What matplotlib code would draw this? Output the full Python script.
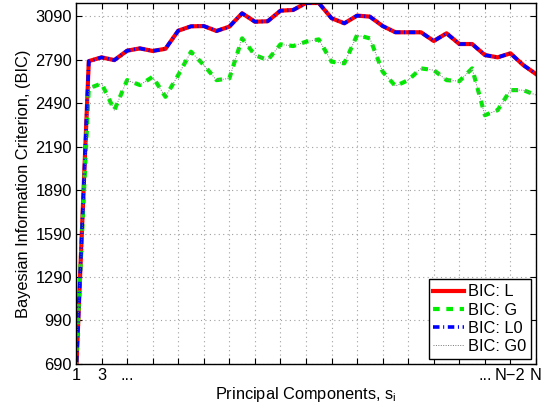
import numpy as np
import matplotlib
matplotlib.use('Agg')
import matplotlib.pyplot as plt

plt.rcParams['font.family'] = ['Liberation Sans', 'DejaVu Sans']
plt.rcParams['mathtext.fontset'] = 'custom'
plt.rcParams['mathtext.rm'] = 'Liberation Sans'

# Principal components 1..N (N = 37)
components = list(range(1, 38))

# BIC values
bic_L = [600, 2779, 2805, 2786, 2851, 2867, 2849, 2864, 2989, 3019,
         3021, 2987, 3017, 3109, 3051, 3054, 3127, 3132, 3180, 3180,
         3075, 3040, 3093, 3086, 3021, 2978, 2978, 2978, 2918, 2971,
         2897, 2897, 2821, 2805, 2833, 2752, 2690]
bic_G = [690, 2591, 2625, 2441, 2648, 2614, 2671, 2533, 2683, 2844,
         2752, 2648, 2660, 2936, 2821, 2786, 2895, 2883, 2913, 2929,
         2775, 2764, 2959, 2936, 2706, 2607, 2648, 2729, 2717, 2648,
         2641, 2729, 2406, 2441, 2579, 2579, 2545]
bic_L0 = list(bic_L)
bic_G0 = list(bic_G)

xtick_pos = list(range(1, 38, 2))
xtick_labels = ['1', '3', '...'] + [''] * 13 + ['...', 'N\u22122', 'N']
ytick_pos = list(range(690, 3091, 300))

fs = 11.8

fig = plt.figure(figsize=(5.52, 4.11), dpi=100)
ax = fig.add_axes([0.1377, 0.1144, 0.8333, 0.8783])

ax.plot(components, bic_L, color='red', lw=3.0, ls='-', label='BIC: L')
ax.plot(components, bic_G, color='#00ee00', lw=3.0, ls=(0, (1.6, 1.6)), label='BIC: G')
ax.plot(components, bic_L0, color='blue', lw=2.6, ls=(0, (1.8, 1.0, 0.3, 1.0)), label='BIC: L0')
ax.plot(components, bic_G0, color='#777777', lw=0.7, ls=(0, (1, 1.5)), label='BIC: G0')

ax.set_xlim(1, 37)
ax.set_ylim(690, 3180)
ax.set_xticks(xtick_pos)
ax.set_xticklabels(xtick_labels)
ax.set_yticks(ytick_pos)

ax.grid(True, color='#a0a0a0', ls=(0, (1, 3)), lw=0.8)
ax.tick_params(direction='in', top=True, right=True, length=4, labelsize=fs, pad=3)
for s in ax.spines.values():
    s.set_linewidth(1.0)

ax.set_xlabel('Principal Components, s$_\\mathregular{i}$', fontsize=fs, labelpad=1)
ax.set_ylabel('Bayesian Information Criterion, (BIC)', fontsize=fs, labelpad=3)

leg = ax.legend(loc='lower right', fontsize=fs, fancybox=False, framealpha=1,
                edgecolor='black', handlelength=1.85, handletextpad=0.25,
                labelspacing=0.2, borderpad=0.3, borderaxespad=0.3)
leg.get_frame().set_linewidth(1.0)

plt.savefig('out.png', dpi=100)
